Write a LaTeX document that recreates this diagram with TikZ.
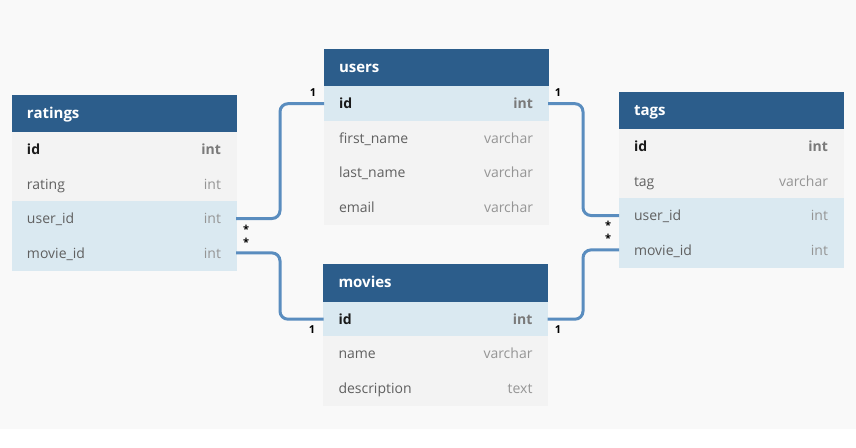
\documentclass[tikz,border=0pt]{standalone}
\usepackage{fontspec}
\setmainfont{Open Sans}
\definecolor{bgc}{HTML}{F9F9F9}
\definecolor{hdrc}{HTML}{2C5D8B}
\definecolor{rowgc}{HTML}{F3F3F3}
\definecolor{rowbc}{HTML}{DAE9F1}
\definecolor{linec}{HTML}{5A8DBF}
\definecolor{fieldc}{HTML}{606060}
\definecolor{typec}{HTML}{959595}
\definecolor{keyc}{HTML}{1A1A1A}
\definecolor{keytypec}{HTML}{7A7A7A}
\newcommand{\fld}[2]{\textcolor{fieldc}{#1}\hfill\textcolor{typec}{#2}}
\newcommand{\keyfld}[2]{\textbf{\textcolor{keyc}{#1}}\hfill\textbf{\textcolor{keytypec}{#2}}}
\begin{document}
\begin{tikzpicture}[x=1pt,y=-1pt,
  hdr/.style={anchor=north west, fill=hdrc, draw=hdrc, line width=0.6pt, text=white, minimum height=37.5pt,
    text width=194pt, inner xsep=15pt, inner ysep=0pt, outer sep=0pt,
    text height=9pt, text depth=0pt,
    font=\fontsize{15}{17}\selectfont\bfseries},
  rowbase/.style={anchor=north west, minimum height=34.4pt, text width=194pt,
    inner xsep=15pt, inner ysep=0pt, outer sep=0pt, line width=0.6pt,
    text height=10.2pt, text depth=0pt, font=\fontsize{14}{16}\selectfont},
  rowg/.style={rowbase, fill=rowgc, draw=rowgc},
  rowb/.style={rowbase, fill=rowbc, draw=rowbc},
  conn/.style={draw=linec, line width=3pt, rounded corners=8pt},
  card/.style={font=\fontsize{11}{12}\selectfont\bfseries, text=black, inner sep=0pt}]
\useasboundingbox (0,0) rectangle (856,447);
\fill[white] (0,0) rectangle (856,447);
\fill[bgc] (0,0) rectangle (856,429);
\coordinate (lx) at (280,0);
\coordinate (rx) at (583,0);
% ratings
\node[hdr] (ratings) at (12,95) {ratings};
\node[rowg] (ratings-id) at (ratings.south west) {\keyfld{id}{int}};
\node[rowg] (ratings-rating) at (ratings-id.south west) {\fld{rating}{int}};
\node[rowb] (ratings-userid) at (ratings-rating.south west) {\fld{user\_id}{int}};
\node[rowb] (ratings-movieid) at (ratings-userid.south west) {\fld{movie\_id}{int}};
% users
\node[hdr] (users) at (324,49) {users};
\node[rowb] (users-id) at (users.south west) {\keyfld{id}{int}};
\node[rowg] (users-first) at (users-id.south west) {\fld{first\_name}{varchar}};
\node[rowg] (users-last) at (users-first.south west) {\fld{last\_name}{varchar}};
\node[rowg] (users-email) at (users-last.south west) {\fld{email}{varchar}};
% tags
\node[hdr] (tags) at (619,92) {tags};
\node[rowg] (tags-id) at (tags.south west) {\keyfld{id}{int}};
\node[rowg] (tags-tag) at (tags-id.south west) {\fld{tag}{varchar}};
\node[rowb] (tags-userid) at (tags-tag.south west) {\fld{user\_id}{int}};
\node[rowb] (tags-movieid) at (tags-userid.south west) {\fld{movie\_id}{int}};
% movies
\node[hdr] (movies) at (323.5,264.5) {movies};
\node[rowb] (movies-id) at (movies.south west) {\keyfld{id}{int}};
\node[rowg] (movies-name) at (movies-id.south west) {\fld{name}{varchar}};
\node[rowg] (movies-desc) at (movies-name.south west) {\fld{description}{text}};
% connectors
\draw[conn] (ratings-userid.east) -- (ratings-userid.east -| lx) |- (users-id.west);
\draw[conn] (ratings-movieid.east) -- (ratings-movieid.east -| lx) |- (movies-id.west);
\draw[conn] (users-id.east) -- (users-id.east -| rx) |- (tags-userid.west);
\draw[conn] (movies-id.east) -- (movies-id.east -| rx) |- (tags-movieid.west);
% cardinality labels
\node[card] (c1) at (313,93) {1};
\node[card] (c2) at (558,93) {1};
\node[card] (c3) at (312,330) {1};
\node[card] (c4) at (558,330) {1};
\node[card] (s1) at (246,229) {*};
\node[card] (s2) at (246,242) {*};
\node[card] (s3) at (608,225.5) {*};
\node[card] (s4) at (608,238) {*};
\end{tikzpicture}
\end{document}
